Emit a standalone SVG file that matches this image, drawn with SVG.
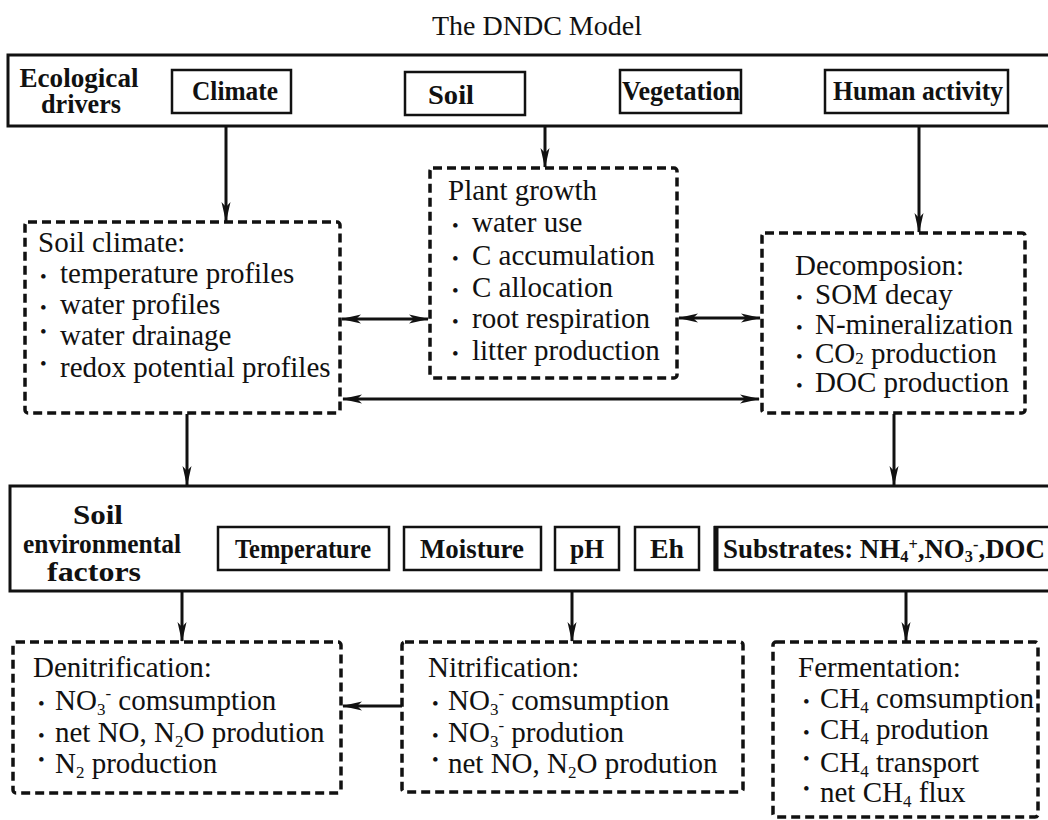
<svg xmlns="http://www.w3.org/2000/svg" width="1048" height="820" viewBox="0 0 1048 820">
<defs>
<style>
.t{font-family:"Liberation Serif","Times New Roman",serif;fill:#111}
.body{font-size:29px}
.bar{font-size:28px;font-weight:bold}
.title{font-size:28px}
.frame{fill:#fff;stroke:#111;stroke-width:3}
.box{fill:#fff;stroke:#111;stroke-width:2.5}
.dash{fill:none;stroke:#111;stroke-width:3.5;stroke-dasharray:9 5}
.conn{fill:none;stroke:#111;stroke-width:3}
.sm{font-size:17px}
.b{font-size:19px}
</style>
<marker id="ah" viewBox="0 0 20 10" refX="19" refY="5" markerWidth="20" markerHeight="10" markerUnits="userSpaceOnUse" orient="auto-start-reverse">
<path d="M0,0.5 L20,5 L0,9.5 L5,5 z" fill="#111"/>
</marker>
</defs>
<rect width="1048" height="820" fill="#fff"/>

<text class="t title" x="537" y="35" text-anchor="middle">The DNDC Model</text>

<g id="ecological-drivers">
<rect class="frame" x="8" y="55" width="1060" height="71"/>
<text class="t bar" x="79" y="87" text-anchor="middle" textLength="119" lengthAdjust="spacingAndGlyphs">Ecological</text>
<text class="t bar" x="81" y="113" text-anchor="middle" textLength="80" lengthAdjust="spacingAndGlyphs">drivers</text>
</g>
<g id="climate">
<rect class="box" x="172" y="70" width="119" height="43"/>
<text class="t bar" x="235" y="100" text-anchor="middle" textLength="86" lengthAdjust="spacingAndGlyphs">Climate</text>
</g>
<g id="soil">
<rect class="box" x="405" y="72" width="120" height="43"/>
<text class="t bar" x="451" y="104" text-anchor="middle" textLength="46" lengthAdjust="spacingAndGlyphs">Soil</text>
</g>
<g id="vegetation">
<rect class="box" x="620" y="70" width="121" height="43"/>
<text class="t bar" x="681" y="100" text-anchor="middle" textLength="118" lengthAdjust="spacingAndGlyphs">Vegetation</text>
</g>
<g id="human-activity">
<rect class="box" x="825" y="70" width="183" height="43"/>
<text class="t bar" x="918" y="100" text-anchor="middle" textLength="170" lengthAdjust="spacingAndGlyphs">Human activity</text>
</g>

<g id="soil-climate">
<rect class="dash" x="25" y="222" width="315" height="191" rx="3"/>
<text class="t body" x="38" y="252">Soil climate:</text>
<text class="t body" y="283"><tspan class="b" x="40">•</tspan><tspan x="60">temperature profiles</tspan></text>
<text class="t body" y="314"><tspan class="b" x="40">•</tspan><tspan x="60">water profiles</tspan></text>
<text class="t body" y="345"><tspan class="b" x="40" dy="-7">•</tspan><tspan x="60" dy="7">water drainage</tspan></text>
<text class="t body" y="377"><tspan class="b" x="40" dy="-7">•</tspan><tspan x="60" dy="7">redox potential profiles</tspan></text>
</g>

<g id="plant-growth">
<rect class="dash" x="430" y="168" width="247" height="210" rx="3"/>
<text class="t body" x="448" y="200">Plant growth</text>
<text class="t body" y="232"><tspan class="b" x="452">•</tspan><tspan x="472">water use</tspan></text>
<text class="t body" y="265"><tspan class="b" x="452">•</tspan><tspan x="472">C accumulation</tspan></text>
<text class="t body" y="297"><tspan class="b" x="452">•</tspan><tspan x="472">C allocation</tspan></text>
<text class="t body" y="328"><tspan class="b" x="452">•</tspan><tspan x="472">root respiration</tspan></text>
<text class="t body" y="360"><tspan class="b" x="452">•</tspan><tspan x="472">litter production</tspan></text>
</g>

<g id="decomposition">
<rect class="dash" x="762" y="233" width="263" height="180" rx="3"/>
<text class="t body" x="795" y="275">Decomposion:</text>
<text class="t body" y="304"><tspan class="b" x="796">•</tspan><tspan x="815">SOM decay</tspan></text>
<text class="t body" y="334"><tspan class="b" x="796">•</tspan><tspan x="815">N-mineralization</tspan></text>
<text class="t body" y="363"><tspan class="b" x="796">•</tspan><tspan x="815">CO</tspan><tspan class="sm" dy="1">2</tspan><tspan dy="-1"> production</tspan></text>
<text class="t body" y="392"><tspan class="b" x="796">•</tspan><tspan x="815">DOC production</tspan></text>
</g>

<g id="soil-environmental-factors">
<rect class="frame" x="10" y="486" width="1060" height="105"/>
<text class="t bar" x="98" y="524" text-anchor="middle" textLength="50" lengthAdjust="spacingAndGlyphs">Soil</text>
<text class="t bar" x="102" y="553" text-anchor="middle" textLength="158" lengthAdjust="spacingAndGlyphs">environmental</text>
<text class="t bar" x="94" y="581" text-anchor="middle" textLength="94" lengthAdjust="spacingAndGlyphs">factors</text>
</g>
<g id="temperature">
<rect class="box" x="218" y="527" width="171" height="43"/>
<text class="t bar" x="303" y="558" text-anchor="middle" textLength="136" lengthAdjust="spacingAndGlyphs">Temperature</text>
</g>
<g id="moisture">
<rect class="box" x="404" y="527" width="137" height="43"/>
<text class="t bar" x="472" y="558" text-anchor="middle" textLength="104" lengthAdjust="spacingAndGlyphs">Moisture</text>
</g>
<g id="ph">
<rect class="box" x="555" y="527" width="64" height="43"/>
<text class="t bar" x="587" y="558" text-anchor="middle" textLength="34" lengthAdjust="spacingAndGlyphs">pH</text>
</g>
<g id="eh">
<rect class="box" x="635" y="527" width="64" height="43"/>
<text class="t bar" x="667" y="558" text-anchor="middle" textLength="34" lengthAdjust="spacingAndGlyphs">Eh</text>
</g>
<g id="substrates">
<rect class="box" x="715" y="527" width="360" height="43"/>
<line x1="716" y1="526" x2="716" y2="571" stroke="#111" stroke-width="5"/>
<text class="t bar" x="723" y="558" textLength="322" lengthAdjust="spacingAndGlyphs">Substrates: NH<tspan class="sm" dy="4">4</tspan><tspan class="sm" dy="-12">+</tspan><tspan dy="8">,NO</tspan><tspan class="sm" dy="4">3</tspan><tspan class="sm" dy="-12">-</tspan><tspan dy="8">,DOC</tspan></text>
</g>

<g id="denitrification">
<rect class="dash" x="13" y="642" width="328" height="151" rx="3"/>
<text class="t body" x="33" y="677">Denitrification:</text>
<text class="t body" y="710"><tspan class="b" x="38">•</tspan><tspan x="55">NO</tspan><tspan class="sm" dy="5">3</tspan><tspan class="sm" dy="-16">-</tspan><tspan dy="11"> comsumption</tspan></text>
<text class="t body" y="742"><tspan class="b" x="38">•</tspan><tspan x="55">net NO, N</tspan><tspan class="sm" dy="5">2</tspan><tspan dy="-5">O prodution</tspan></text>
<text class="t body" y="773"><tspan class="b" x="38" dy="-7">•</tspan><tspan x="55" dy="7">N</tspan><tspan class="sm" dy="5">2</tspan><tspan dy="-5"> production</tspan></text>
</g>

<g id="nitrification">
<rect class="dash" x="402" y="642" width="341" height="150" rx="3"/>
<text class="t body" x="428" y="677">Nitrification:</text>
<text class="t body" y="710"><tspan class="b" x="432">•</tspan><tspan x="448">NO</tspan><tspan class="sm" dy="5">3</tspan><tspan class="sm" dy="-16">-</tspan><tspan dy="11"> comsumption</tspan></text>
<text class="t body" y="742"><tspan class="b" x="432">•</tspan><tspan x="448">NO</tspan><tspan class="sm" dy="5">3</tspan><tspan class="sm" dy="-16">-</tspan><tspan dy="11">  prodution</tspan></text>
<text class="t body" y="773"><tspan class="b" x="432" dy="-7">•</tspan><tspan x="448" dy="7">net NO, N</tspan><tspan class="sm" dy="5">2</tspan><tspan dy="-5">O prodution</tspan></text>
</g>

<g id="fermentation">
<rect class="dash" x="773" y="642" width="265" height="175" rx="3"/>
<text class="t body" x="798" y="677">Fermentation:</text>
<text class="t body" y="708"><tspan class="b" x="803">•</tspan><tspan x="820">CH</tspan><tspan class="sm" dy="5">4</tspan><tspan dy="-5"> comsumption</tspan></text>
<text class="t body" y="739"><tspan class="b" x="803">•</tspan><tspan x="820">CH</tspan><tspan class="sm" dy="5">4</tspan><tspan dy="-5"> prodution</tspan></text>
<text class="t body" y="772"><tspan class="b" x="803" dy="-7">•</tspan><tspan x="820" dy="7">CH</tspan><tspan class="sm" dy="5">4</tspan><tspan dy="-5"> transport</tspan></text>
<text class="t body" y="802"><tspan class="b" x="803" dy="-7">•</tspan><tspan x="820" dy="7">net CH</tspan><tspan class="sm" dy="5">4</tspan><tspan dy="-5">  flux</tspan></text>
</g>

<g id="connectors">
<line class="conn" x1="226" y1="127" x2="226" y2="221" marker-end="url(#ah)"/>
<line class="conn" x1="545" y1="127" x2="545" y2="167" marker-end="url(#ah)"/>
<line class="conn" x1="919" y1="127" x2="919" y2="232" marker-end="url(#ah)"/>
<line class="conn" x1="342" y1="319" x2="428" y2="319" marker-start="url(#ah)" marker-end="url(#ah)"/>
<line class="conn" x1="679" y1="318" x2="760" y2="318" marker-start="url(#ah)" marker-end="url(#ah)"/>
<line class="conn" x1="343" y1="399" x2="759" y2="399" marker-start="url(#ah)" marker-end="url(#ah)"/>
<line class="conn" x1="187" y1="414" x2="187" y2="485" marker-end="url(#ah)"/>
<line class="conn" x1="894" y1="414" x2="894" y2="485" marker-end="url(#ah)"/>
<line class="conn" x1="182" y1="592" x2="182" y2="641" marker-end="url(#ah)"/>
<line class="conn" x1="572" y1="592" x2="572" y2="641" marker-end="url(#ah)"/>
<line class="conn" x1="906" y1="592" x2="906" y2="641" marker-end="url(#ah)"/>
<line class="conn" x1="402" y1="706" x2="343" y2="706" marker-end="url(#ah)"/>
</g>
</svg>
